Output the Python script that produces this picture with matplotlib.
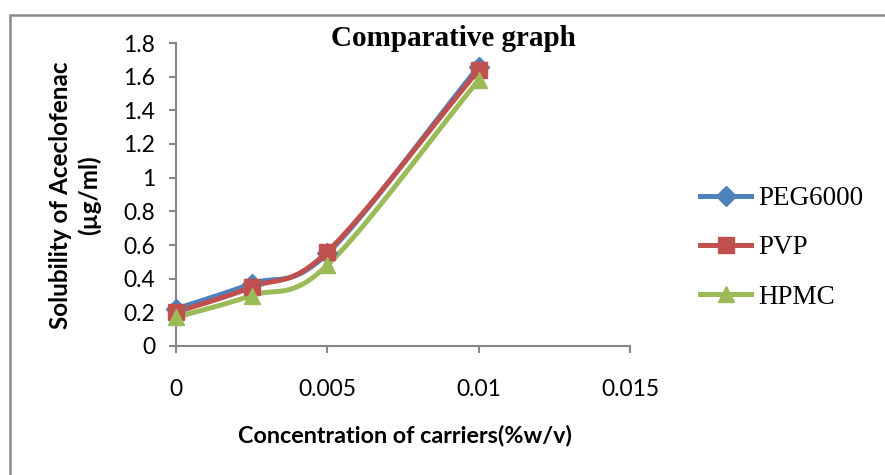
import numpy as np
import matplotlib.pyplot as plt
from matplotlib.patches import Rectangle

# Konzentration der Träger (%w/v) und Löslichkeit (µg/ml)
conc = [0, 0.0025, 0.005, 0.01]
peg6000 = [0.22, 0.37, 0.55, 1.66]
pvp = [0.20, 0.35, 0.56, 1.64]
hpmc = [0.17, 0.30, 0.48, 1.58]
series_names = ['PEG6000', 'PVP', 'HPMC']
x_ticks = [0, 0.005, 0.01, 0.015]
y_ticks = [0, 0.2, 0.4, 0.6, 0.8, 1, 1.2, 1.4, 1.6, 1.8]


def smooth(xs, ys, n=40):
    # Catmull-Rom Glättung wie bei "geglättete Linie"
    xs = np.asarray(xs, float)
    ys = np.asarray(ys, float)
    px = np.concatenate([[2 * xs[0] - xs[1]], xs, [2 * xs[-1] - xs[-2]]])
    py = np.concatenate([[2 * ys[0] - ys[1]], ys, [2 * ys[-1] - ys[-2]]])
    out_x, out_y = [], []
    for i in range(1, len(px) - 2):
        t = np.linspace(0, 1, n)
        t2, t3 = t * t, t * t * t
        for p, out in ((px, out_x), (py, out_y)):
            p0, p1, p2, p3 = p[i - 1], p[i], p[i + 1], p[i + 2]
            out.extend(0.5 * (2 * p1 + (-p0 + p2) * t
                              + (2 * p0 - 5 * p1 + 4 * p2 - p3) * t2
                              + (-p0 + 3 * p1 - 3 * p2 + p3) * t3))
    return out_x, out_y


fig = plt.figure(figsize=(8.85, 4.75), dpi=100)
ax = fig.add_axes([176 / 885, 1 - 346 / 475, (630 - 176) / 885, (346 - 43) / 475])

colors = ['#4F81BD', '#C0504D', '#9BBB59']
markers = ['D', 's', '^']
msizes = [10, 11, 12]
handles = []
for ys, name, c, m, ms in zip([peg6000, pvp, hpmc], series_names, colors, markers, msizes):
    sx, sy = smooth(conc, ys)
    ax.plot(sx, sy, color=c, lw=3.6, solid_capstyle='round', zorder=2)
    ax.plot(conc, ys, ls='none', marker=m, ms=ms, color=c, zorder=3)
    h, = ax.plot([], [], color=c, lw=3.6, marker=m, ms=ms, label=name)
    handles.append(h)

ax.set_xlim(0, 0.015)
ax.set_ylim(0, 1.8)
ax.set_xticks(x_ticks)
ax.set_xticklabels(['0', '0.005', '0.01', '0.015'])
ax.set_yticks(y_ticks)
ax.set_yticklabels(['0', '0.2', '0.4', '0.6', '0.8', '1', '1.2', '1.4', '1.6', '1.8'])
for s in ['top', 'right']:
    ax.spines[s].set_visible(False)
for s in ['left', 'bottom']:
    ax.spines[s].set_color('#868686')
    ax.spines[s].set_linewidth(1.5)
ax.tick_params(axis='both', colors='#868686', length=5, width=1.5, direction='out')
ax.tick_params(axis='both', labelcolor='black', labelsize=16.5)
ax.tick_params(axis='x', pad=19)
ax.tick_params(axis='y', pad=10)
for lbl in ax.get_xticklabels() + ax.get_yticklabels():
    lbl.set_family('Lato')
for line in ax.lines:
    line.set_clip_on(False)

# Achsenbeschriftungen
fig.text(75 / 885, 1 - 195 / 475, 'Solubility of Aceclofenac\n(µg/ml)',
         rotation=90, ha='center', va='center', fontsize=17.5, fontweight='bold',
         family='Lato', multialignment='center', linespacing=1.25)
fig.text(405 / 885, 1 - 436 / 475, 'Concentration of carriers(%w/v)',
         ha='center', va='center', fontsize=16.8, fontweight='bold', family='Lato')

# Titel
fig.text(453 / 885, 1 - 38 / 475, 'Comparative graph', ha='center', va='center',
         fontsize=21, fontweight='bold', family='Liberation Serif')

# Legende
fig.legend(handles=handles, loc='center left', bbox_to_anchor=(689 / 885, 1 - 248 / 475),
           frameon=False, prop={'family': 'Liberation Serif', 'size': 19.5},
           handlelength=1.9, handletextpad=0.25, labelspacing=0.9, borderaxespad=0)

# Rahmen um das Diagramm
fig.patches.append(Rectangle((10 / 885, -0.1), 1.2, 1.1 - 15 / 475, transform=fig.transFigure,
                             fill=False, edgecolor='#8a8a8a', lw=1.8))

fig.savefig('out.png', dpi=100)
